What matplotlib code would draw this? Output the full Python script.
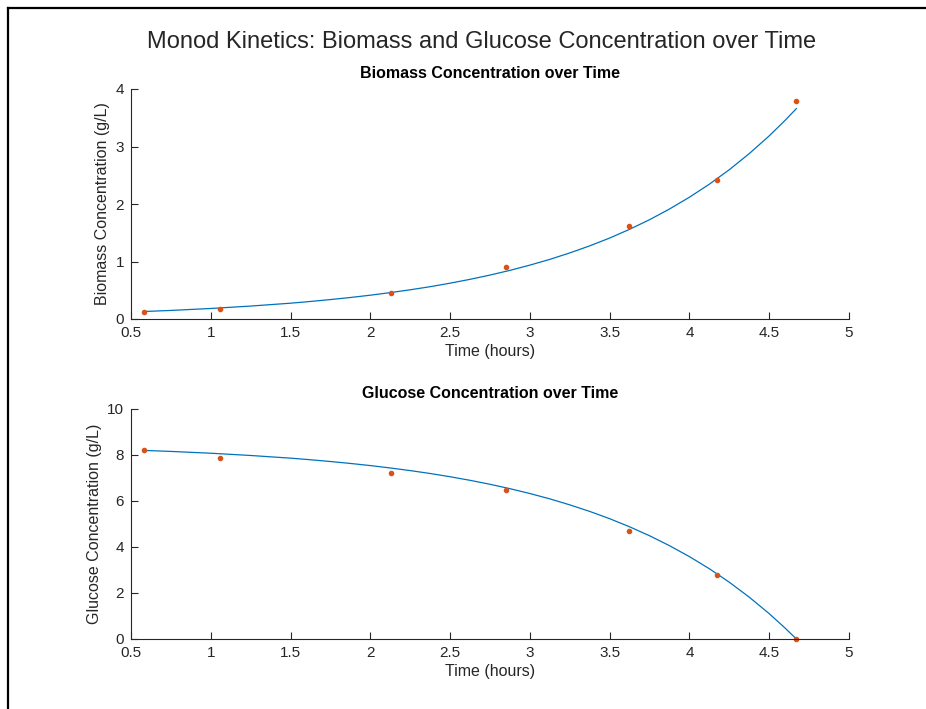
import matplotlib
matplotlib.use("Agg")
import matplotlib.pyplot as plt
from matplotlib.lines import Line2D

plt.rcParams['font.family'] = ['Liberation Sans', 'DejaVu Sans']

# measured data
t_data = [0.58, 1.06, 2.13, 2.85, 3.62, 4.17, 4.67]
biomass_data = [0.12, 0.17, 0.45, 0.90, 1.62, 2.42, 3.80]
glucose_data = [8.20, 7.87, 7.20, 6.50, 4.70, 2.80, 0.00]

# model curve values
t_model = [0.58, 0.75, 1.0, 1.25, 1.5, 1.625, 1.75, 1.875, 2.0, 2.125, 2.25,
           2.375, 2.5, 2.625, 2.75, 2.875, 3.0, 3.125, 3.25, 3.375, 3.5,
           3.625, 3.75, 3.875, 4.0, 4.125, 4.25, 4.375, 4.5, 4.6, 4.67]
biomass_model = [0.130, 0.149, 0.183, 0.225, 0.275, 0.305, 0.338, 0.374,
                 0.414, 0.459, 0.508, 0.562, 0.623, 0.690, 0.764, 0.846,
                 0.937, 1.037, 1.149, 1.272, 1.408, 1.560, 1.727, 1.913,
                 2.118, 2.345, 2.597, 2.877, 3.185, 3.456, 3.659]
glucose_model = [8.200, 8.156, 8.077, 7.979, 7.863, 7.793, 7.717, 7.633,
                 7.540, 7.436, 7.322, 7.196, 7.055, 6.899, 6.727, 6.536,
                 6.325, 6.093, 5.832, 5.547, 5.231, 4.878, 4.489, 4.057,
                 3.581, 3.054, 2.468, 1.818, 1.102, 0.472, 0.000]

x_ticks = [0.5, 1, 1.5, 2, 2.5, 3, 3.5, 4, 4.5, 5]
x_ticklabels = ['0.5', '1', '1.5', '2', '2.5', '3', '3.5', '4', '4.5', '5']

BLUE = '#0072BD'
ORANGE = '#D95319'
AX = '#262626'

fig = plt.figure(figsize=(9.26, 7.09), dpi=100)
fig.patch.set_facecolor('white')

W, H = 926, 709
def pos(l, t, r, b):
    return [l / W, 1 - b / H, (r - l) / W, (b - t) / H]

ax1 = fig.add_axes(pos(131, 89, 849, 319))
ax2 = fig.add_axes(pos(131, 409, 849, 639))

def style(ax):
    for s in ['top', 'right']:
        ax.spines[s].set_visible(False)
    for s in ['left', 'bottom']:
        ax.spines[s].set_color(AX)
        ax.spines[s].set_linewidth(0.8)
    ax.tick_params(direction='in', length=5, width=0.8, colors=AX,
                   labelsize=11, labelcolor=AX, pad=5)
    ax.set_xlim(0.5, 5)
    ax.set_xticks(x_ticks)
    ax.set_xticklabels(x_ticklabels)
    ax.set_xlabel('Time (hours)', fontsize=11.5, color=AX, labelpad=3)

ax1.plot(t_model, biomass_model, color=BLUE, lw=0.9)
ax1.plot(t_data, biomass_data, '.', color=ORANGE, ms=6)
style(ax1)
ax1.set_ylim(0, 4)
ax1.set_yticks([0, 1, 2, 3, 4])
ax1.set_ylabel('Biomass Concentration (g/L)', fontsize=11.5, color=AX, labelpad=4)
ax1.set_title('Biomass Concentration over Time', fontsize=11.5, fontweight='bold',
              color='black', pad=8)

ax2.plot(t_model, glucose_model, color=BLUE, lw=0.9)
ax2.plot(t_data, glucose_data, '.', color=ORANGE, ms=6, clip_on=False)
style(ax2)
ax2.set_ylim(0, 10)
ax2.set_yticks([0, 2, 4, 6, 8, 10])
ax2.set_ylabel('Glucose Concentration (g/L)', fontsize=11.5, color=AX, labelpad=4)
ax2.set_title('Glucose Concentration over Time', fontsize=11.5, fontweight='bold',
              color='black', pad=8)

fig.text(482 / W, 1 - 42 / H, 'Monod Kinetics: Biomass and Glucose Concentration over Time',
         ha='center', va='center', fontsize=17, color=AX)

# screenshot frame (top and left edges)
fig.add_artist(Line2D([8 / W, 1], [1 - 8 / H, 1 - 8 / H], color='black', lw=1.6,
                      transform=fig.transFigure))
fig.add_artist(Line2D([8 / W, 8 / W], [0, 1 - 8 / H], color='black', lw=1.6,
                      transform=fig.transFigure))

fig.savefig('out.png', dpi=100, facecolor='white')
